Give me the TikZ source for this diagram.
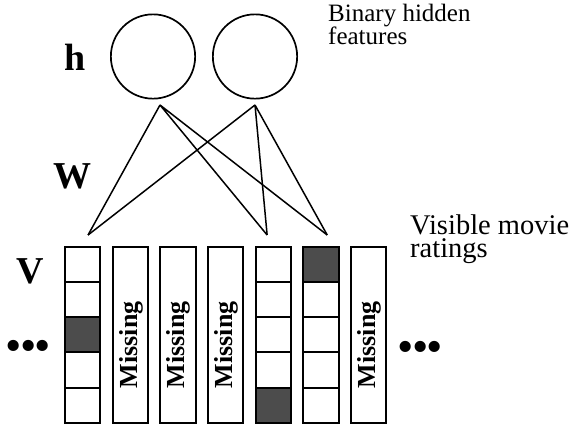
\documentclass[tikz,border=0pt]{standalone}
\usepackage{fontspec}
\setmainfont{Liberation Serif}
\usetikzlibrary{positioning}
\definecolor{ratedgray}{gray}{0.3}

\begin{document}
\begin{tikzpicture}[x=1pt,y=-1pt,
        cell/.style={draw,rectangle,minimum width=35.3pt,minimum height=35.26pt,outer sep=0pt,inner sep=0pt,line width=2pt,node distance=0pt},
        rated/.style={cell,fill=ratedgray},
        missbox/.style={draw,rectangle,minimum width=35.3pt,minimum height=176.3pt,outer sep=0pt,inner sep=0pt,line width=2pt},
        misslabel/.style={rotate=90,anchor=base,inner sep=0pt,font=\fontsize{26}{26}\selectfont\bfseries},
        hidden/.style={draw,circle,minimum size=84.3pt,inner sep=0pt,line width=1.7pt},
        layer/.style={anchor=base,inner sep=0pt,font=\fontsize{38}{40}\selectfont\bfseries},
        note/.style={anchor=north west,align=left,inner sep=0pt},
        dots/.style={inner sep=0pt,font=\fontsize{41}{41}\selectfont\bfseries},
        weight/.style={line width=1.5pt}]
   \useasboundingbox (0,0) rectangle (572,432);
   % hidden units
   \node[hidden] (h1) at (153,56.5) {};
   \node[hidden] (h2) at (255,56.5) {};
   % visible units, one column per movie
   \node[cell] (c1a) at (82.65,264.33) {};
   \node[cell,below=of c1a] (c1b) {};
   \node[rated,below=of c1b] (c1c) {};
   \node[cell,below=of c1c] (c1d) {};
   \node[cell,below=of c1d] (c1e) {};
   \node[missbox,anchor=north west] (m2) at ([xshift=12.37pt]c1a.north east) {};
   \node[missbox,anchor=north west] (m3) at ([xshift=12.37pt]m2.north east) {};
   \node[missbox,anchor=north west] (m4) at ([xshift=12.37pt]m3.north east) {};
   \node[cell,anchor=north west] (c5a) at ([xshift=12.37pt]m4.north east) {};
   \node[cell,below=of c5a] (c5b) {};
   \node[cell,below=of c5b] (c5c) {};
   \node[cell,below=of c5c] (c5d) {};
   \node[rated,below=of c5d] (c5e) {};
   \node[rated,anchor=north west] (c6a) at ([xshift=12.37pt]c5a.north east) {};
   \node[cell,below=of c6a] (c6b) {};
   \node[cell,below=of c6b] (c6c) {};
   \node[cell,below=of c6c] (c6d) {};
   \node[cell,below=of c6d] (c6e) {};
   \node[missbox,anchor=north west] (m7) at ([xshift=12.37pt]c6a.north east) {};
   % missing labels
   \node[misslabel] (l2) at ([xshift=7pt,yshift=-10pt]m2.center) {Missing};
   \node[misslabel] (l3) at ([xshift=7pt,yshift=-10pt]m3.center) {Missing};
   \node[misslabel] (l4) at ([xshift=7pt,yshift=-10pt]m4.center) {Missing};
   \node[misslabel] (l7) at ([xshift=7pt,yshift=-10pt]m7.center) {Missing};
   % weights
   \coordinate (h1s) at ([xshift=7pt,yshift=-5.5pt]h1.south);
   \coordinate (h2s) at ([yshift=-5.5pt]h2.south);
   \coordinate (v1) at ([xshift=5.4pt,yshift=11.7pt]c1a.north);
   \coordinate (v5) at ([xshift=-6.2pt,yshift=11.7pt]c5a.north);
   \coordinate (v6) at ([xshift=6.2pt,yshift=11.7pt]c6a.north);
   \draw[weight] (h1s) -- (v1) (h1s) -- (v5) (h1s) -- (v6);
   \draw[weight] (h2s) -- (v1) (h2s) -- (v5) (h2s) -- (v6);
   % layer names and notes
   \node[layer] (hl) at (75,70) {h};
   \node[layer] (wl) at (72.5,188) {W};
   \node[layer] (vl) at (30.5,283) {V};
   \node[note,font=\fontsize{25}{23}\selectfont] (hn) at (328,4) {Binary hidden\\features};
   \node[note,font=\fontsize{28.5}{23}\selectfont] (vn) at (410,215) {Visible movie\\ratings};
   \node[dots] (ld) at (28.5,350) {\textbullet\textbullet\textbullet};
   \node[dots] (rd) at (420.5,350.5) {\textbullet\textbullet\textbullet};
\end{tikzpicture}
\end{document}
